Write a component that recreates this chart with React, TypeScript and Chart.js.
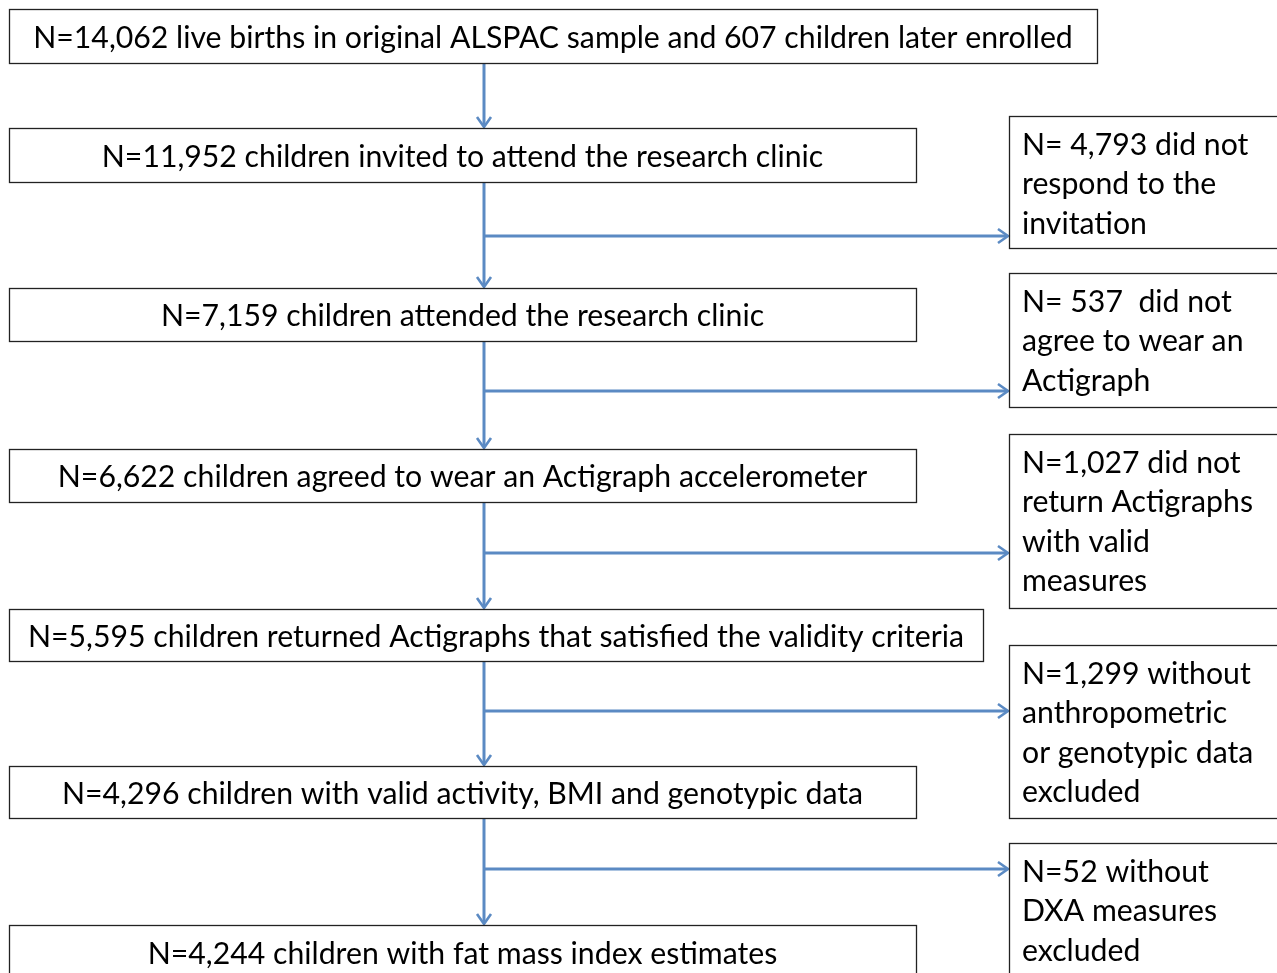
import React, { useEffect, useRef } from "react";
import { Chart, registerables } from "chart.js";

Chart.register(...registerables);

// ---- Data ----
const stageLabels: string[] = [
  "N=14,062 live births in original ALSPAC sample and 607 children later enrolled",
  "N=11,952 children invited to attend the research clinic",
  "N=7,159 children attended the research clinic",
  "N=6,622 children agreed to wear an Actigraph accelerometer",
  "N=5,595 children returned Actigraphs that satisfied the validity criteria",
  "N=4,296 children with valid activity, BMI and genotypic data",
  "N=4,244 children with fat mass index estimates",
];

const exclusionLabels: string[][] = [
  ["N= 4,793 did not", "respond to the", "invitation"],
  ["N= 537  did not", "agree to wear an", "Actigraph"],
  ["N=1,027 did not", "return Actigraphs", "with valid", "measures"],
  ["N=1,299 without", "anthropometric", "or genotypic data", "excluded"],
  ["N=52 without", "DXA measures", "excluded"],
];

// ---- Layout (design grid 1277 x 973, used as axis units) ----
const stageTop = [9, 128, 288, 449, 609, 766, 925];
const stageBottom = [63, 182, 341, 502, 661, 818, 985];
const stageRight = [1097, 916, 916, 916, 983, 916, 916];
const stageLeft = 9;
const sideLeft = 1009;
const sideRight = 1285;
const sideTop = [116, 273, 434, 645, 843];
const sideBottom = [248, 407, 608, 818, 985];
const branchY = [236, 391, 553, 711, 869];
const spineX = 484;
const lineGap = 39.5;
const titleWidth = 1040;

const FONT = "Lato, 'Open Sans', sans-serif";
const ARROW = "#5b8ac3";
const BORDER = "#222";

const flowPlugin = {
  id: "flow",
  afterDraw(chart: any) {
    const ctx: CanvasRenderingContext2D = chart.ctx;
    const xs = chart.scales.x;
    const ys = chart.scales.y;
    const X = (v: number) => xs.getPixelForValue(v);
    const Y = (v: number) => ys.getPixelForValue(v);

    ctx.save();
    ctx.fillStyle = "#fff";
    ctx.fillRect(0, 0, chart.width, chart.height);

    // font size fitted to the title width
    ctx.font = `100px ${FONT}`;
    const w100 = ctx.measureText(stageLabels[0]).width;
    const fs = (100 * (X(titleWidth) - X(0))) / w100;
    ctx.font = `${fs}px ${FONT}`;

    // arrows
    ctx.strokeStyle = ARROW;
    ctx.lineCap = "butt";
    const head = (tx: number, ty: number, dir: "down" | "right") => {
      ctx.lineWidth = 2.6;
      ctx.beginPath();
      if (dir === "down") {
        ctx.moveTo(tx - 7, ty - 11);
        ctx.lineTo(tx, ty - 1);
        ctx.lineTo(tx + 7, ty - 11);
      } else {
        ctx.moveTo(tx - 11, ty - 7);
        ctx.lineTo(tx - 1, ty);
        ctx.lineTo(tx - 11, ty + 7);
      }
      ctx.stroke();
    };
    for (let i = 0; i < stageLabels.length - 1; i++) {
      const x = X(spineX);
      ctx.lineWidth = 3;
      ctx.beginPath();
      ctx.moveTo(x, Y(stageBottom[i]) + 1);
      ctx.lineTo(x, Y(stageTop[i + 1]) - 2);
      ctx.stroke();
      head(x, Y(stageTop[i + 1]), "down");
      if (i >= 1) {
        const by = Y(branchY[i - 1]);
        ctx.lineWidth = 3;
        ctx.beginPath();
        ctx.moveTo(x, by);
        ctx.lineTo(X(sideLeft) - 2, by);
        ctx.stroke();
        head(X(sideLeft), by, "right");
      }
    }

    // stage boxes
    ctx.strokeStyle = BORDER;
    ctx.lineWidth = 1.3;
    ctx.fillStyle = "#000";
    ctx.textBaseline = "middle";
    stageLabels.forEach((label, i) => {
      const l = X(stageLeft), r = X(stageRight[i]);
      const t = Y(stageTop[i]), b = Y(stageBottom[i]);
      ctx.strokeRect(Math.round(l) + 0.5, Math.round(t) + 0.5, Math.round(r - l), Math.round(b - t));
      ctx.textAlign = "center";
      const bottomVisible = Math.min(b, Y(stageTop[i]) + 54);
      ctx.fillText(label, (l + r) / 2, (t + bottomVisible) / 2 + 2);
    });

    // exclusion boxes
    exclusionLabels.forEach((lines, i) => {
      const l = X(sideLeft), r = X(sideRight);
      const t = Y(sideTop[i]), b = Y(sideBottom[i]);
      ctx.strokeRect(Math.round(l) + 0.5, Math.round(t) + 0.5, Math.round(r - l), Math.round(b - t));
      ctx.textAlign = "left";
      const y0 = t + 29;
      lines.forEach((ln, k) => {
        ctx.fillText(ln, l + 13, y0 + k * lineGap);
      });
    });
    ctx.restore();
  },
};

export default function App() {
  const ref = useRef<HTMLCanvasElement | null>(null);
  useEffect(() => {
    document.body.style.margin = "0";
    const canvas = ref.current;
    if (!canvas) return;
    const chart = new Chart(canvas, {
      type: "scatter",
      data: { datasets: [{ data: [], showLine: false }] },
      options: {
        animation: false,
        responsive: false,
        devicePixelRatio: 1,
        layout: { padding: 0 },
        plugins: { legend: { display: false }, tooltip: { enabled: false } },
        scales: {
          x: { type: "linear", min: 0, max: 1277, display: false },
          y: { type: "linear", min: 0, max: 973, reverse: true, display: false },
        },
      },
      plugins: [flowPlugin],
    });
    return () => chart.destroy();
  }, []);
  return (
    <div style={{ width: 1277, height: 973, overflow: "hidden" }}>
      <canvas ref={ref} width={1277} height={973} style={{ display: "block" }} />
    </div>
  );
}
